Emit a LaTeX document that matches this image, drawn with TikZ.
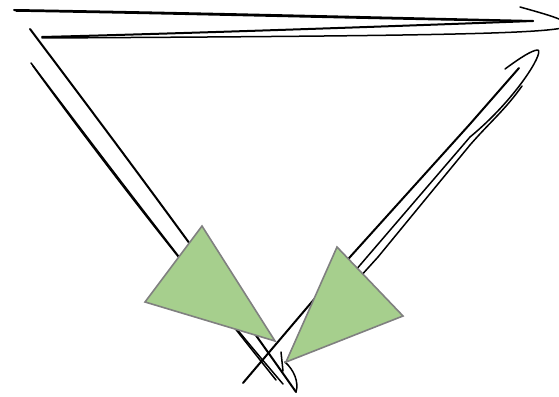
\documentclass[tikz,border=0pt]{standalone}
\begin{document}
\begin{tikzpicture}[x=1pt,y=-1pt,
  sk/.style={draw=black,line width=2pt,line cap=round,line join=round},
  skt/.style={draw=black,line width=1.5pt,line cap=round,line join=round},
  tri/.style={draw=black!50,line width=1.6pt,fill={rgb,255:red,166;green,207;blue,141},line join=miter}]
\useasboundingbox (0,0) rectangle (559,396);
% top edge
\draw[sk] (14,10) .. controls (200,13) and (400,18) .. (533,21);
\draw[skt] (16,11) .. controls (200,14) and (420,20) .. (520,21);
\draw[sk] (533,21) .. controls (400,26) and (200,33) .. (42,37);
\draw[skt] (520,7) .. controls (545,14) and (575,22) .. (566,27) .. controls (545,34) and (420,36) .. (42,38);
% left edge
\draw[sk] (30,29) .. controls (100,122) and (200,255) .. (296,392);
\draw[skt] (31,63) .. controls (110,168) and (200,285) .. (276,380);
\draw[skt] (33,66) .. controls (110,172) and (205,293) .. (283,384);
\draw[skt] (296,392) .. controls (299,382) and (294,370) .. (285,362);
\draw[skt] (281,352) -- (283,371);
% right edge
\draw[sk] (519,68) -- (470,124) -- (350,257) -- (243,383);
\draw[skt] (505,69) .. controls (520,58) and (532,50) .. (538,50) .. controls (544,53) and (515,100) .. (470,137) -- (367,257) -- (300,335);
\draw[skt] (522,86) .. controls (505,110) and (490,122) .. (470,145) -- (378,257) -- (330,310);
% triangles
\path[tri] (202,226) -- (145,302) -- (275,341) -- cycle;
\path[tri] (337,247) -- (403,316) -- (286,362) -- cycle;
\end{tikzpicture}
\end{document}
